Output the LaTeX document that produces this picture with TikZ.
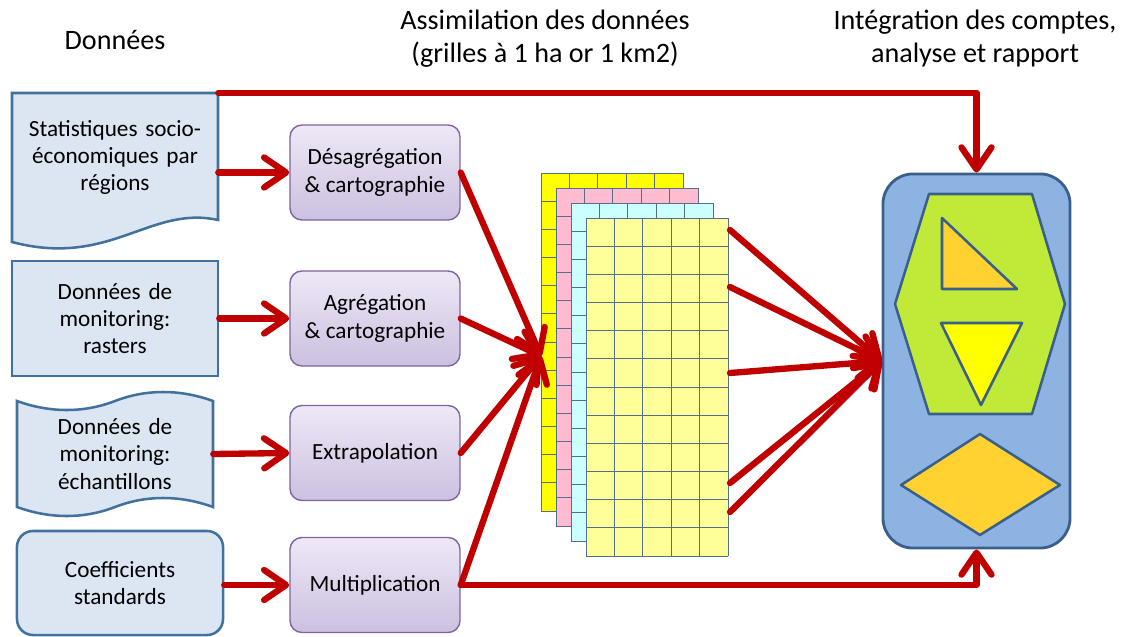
\documentclass[tikz,border=0pt]{standalone}
\usepackage{fontspec}
\setmainfont{Carlito}
\usepackage{tikz}
\usetikzlibrary{arrows.meta,positioning}
\definecolor{flowred}{RGB}{192,0,0}
\definecolor{srcfill}{RGB}{220,230,242}
\definecolor{srcline}{RGB}{65,113,156}
\definecolor{proctop}{RGB}{238,232,246}
\definecolor{procbot}{RGB}{204,192,224}
\definecolor{procline}{RGB}{128,100,162}
\definecolor{cellline}{RGB}{85,110,140}
\definecolor{gyellow}{RGB}{255,255,0}
\definecolor{gpink}{RGB}{255,187,208}
\definecolor{gcyan}{RGB}{204,255,255}
\definecolor{glyellow}{RGB}{255,255,153}
\definecolor{acctfill}{RGB}{141,179,226}
\definecolor{acctline}{RGB}{58,95,139}
\definecolor{hexgreen}{RGB}{192,233,56}
\definecolor{shapeorange}{RGB}{255,210,50}
\tikzstyle{arrow} = [line width=4.5pt, color=flowred, line cap=round, line join=round, -{Straight Barb[length=5.5mm,width=7.5mm,round]}]
\tikzstyle{source} = [fill=srcfill, draw=srcline, line width=1.8pt]
\tikzstyle{srctext} = [inner sep=0pt, align=center, font=\fontsize{16.5}{19.5}\selectfont]
\tikzstyle{process} = [rectangle, rounded corners=0.3cm, top color=proctop, bottom color=procbot, draw=procline, line width=1pt, minimum width=4.25cm, minimum height=2.375cm, align=center, font=\fontsize{16.5}{19.5}\selectfont]
\tikzstyle{heading} = [align=center, font=\fontsize{20}{23.5}\selectfont]
\tikzstyle{cell} = [draw=cellline, line width=0.6pt]
\tikzstyle{figure} = [draw=acctline, line width=1.8pt, line join=round]

\begin{document}
\begin{tikzpicture}[x=0.025cm, y=-0.025cm]
\useasboundingbox (0,0) rectangle (1123,637);

% Headings
\node[heading] (tdonnees) at (115,40) {Données};
\node[heading] (tassim) at (545,38.5) {Assimilation des données\\(grilles à 1 ha or 1 km2)};
\node[heading] (tinteg) at (975,38.5) {Intégration des comptes,\\analyse et rapport};

% Data sources
\draw[source] (12,93) -- (218,93) -- (218,220) .. controls (150,205) and (110,268) .. (12,242) -- cycle;
\node[srctext, text width=5.15cm, minimum height=3.225cm] (stats) at (115,157.5) {Statistiques socio-\\économiques par\\régions};

\node[srctext, source, rectangle, text width=5.15cm, minimum height=2.875cm] (rasters) at (115,318.5) {Données de\\monitoring:\\rasters};

\draw[source] (17,401) .. controls (50,413) and (84,413) .. (115,401) .. controls (146,389) and (180,389) .. (213,401)
  -- (213,507) .. controls (180,495) and (146,495) .. (115,507) .. controls (84,519) and (50,519) .. (17,507) -- cycle;
\node[srctext, text width=4.9cm, minimum height=2.6cm] (echant) at (115,454) {Données de\\monitoring:\\échantillons};

\node[srctext, source, rounded corners=0.4cm, text width=5.15cm, minimum height=2.6cm] (coeffs) at (120,583) {Coefficients\\standards};

% Processing
\node[process] (desagr) at (375,172.5) {Désagrégation\\\& cartographie};
\node[process] (agreg) at (375,318.5) {Agrégation\\\& cartographie};
\node[process] (extrap) at (375,453) {Extrapolation};
\node[process] (multip) at (375,585) {Multiplication};

% Stacked grids
\foreach \i/\col in {0/gyellow,1/gpink,2/gcyan,3/glyellow} {
  \begin{scope}[shift={(541+15*\i,173+15*\i)}]
    \fill[\col] (0,0) rectangle (142,338);
    \foreach \k in {0,...,5} \draw[cell] (28.4*\k,0) -- (28.4*\k,338);
    \foreach \r in {0,...,12} \draw[cell] (0,28.1667*\r) -- (142,28.1667*\r);
  \end{scope}
}
\coordinate (gridin) at (541,356);

% Accounts
\node[draw=acctline, fill=acctfill, line width=2pt, rounded corners=0.75cm, minimum width=4.675cm, minimum height=9.35cm] (comptes) at (976.5,361) {};
\draw[figure, fill=hexgreen] (929,194) -- (1032,194) -- (1065,304) -- (1032,414) -- (929,414) -- (895,304) -- cycle;
\draw[figure, fill=shapeorange] (942,218) -- (942,289) -- (1017,289) -- cycle;
\draw[figure, fill=gyellow] (941,323) -- (1022,323) -- (981,405) -- cycle;
\draw[figure, fill=shapeorange] (901,485) -- (980,434) -- (1060,485) -- (980,535) -- cycle;

% Sources to processing
\draw[arrow] (stats.east |- desagr.west) -- (desagr.west);
\draw[arrow] (rasters.east) -- (agreg.west);
\draw[arrow] (echant.east) -- (extrap.west);
\draw[arrow] (coeffs.east |- multip.west) -- (multip.west);

% Processing to grids
\foreach \n in {desagr,agreg,extrap,multip}
  \draw[arrow] (\n.east) -- (gridin);

% Grids to accounts
\foreach \y [count=\k] in {230,287,373,483,512} {
  \coordinate (gout\k) at (730,\y);
  \draw[arrow] (gout\k) -- (comptes.west);
}

% Direct links
\draw[arrow] (stats.north east) -| (comptes.north);
\draw[arrow] (multip.east) -| (comptes.south);
\end{tikzpicture}
\end{document}
